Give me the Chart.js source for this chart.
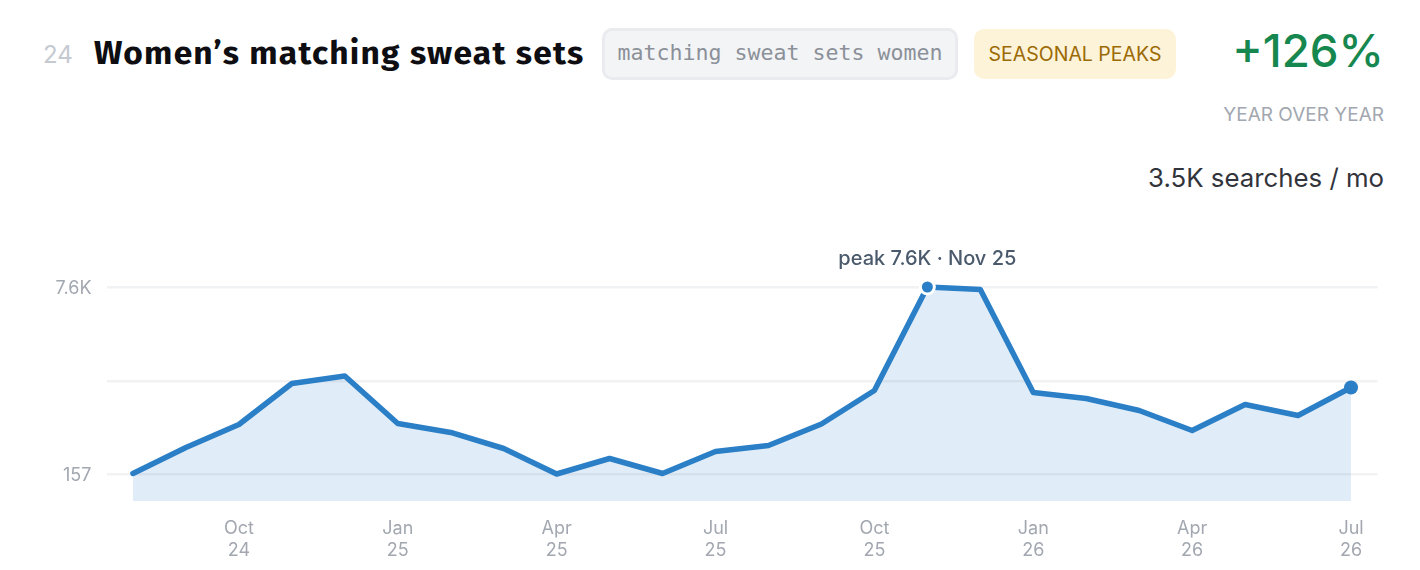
<!DOCTYPE html>
<html><head><meta charset="utf-8">
<style>
html,body{margin:0;padding:0;background:#fff;width:1420px;height:570px;overflow:hidden;font-family:Inter,sans-serif}
.t{position:absolute;white-space:nowrap;line-height:1}
#rank{left:43px;top:43px;font-size:24px;color:#c5c9d1}
#title{left:94px;top:37px;font-family:"Fira Sans","Open Sans",sans-serif;font-weight:700;font-size:33.5px;letter-spacing:1.24px;color:#0d0d12}
#kw{position:absolute;left:602px;top:28px;width:356px;height:52px;box-sizing:border-box;background:#f3f4f6;border:3px solid #e9ebef;border-radius:10px;font-family:"DejaVu Sans Mono",monospace;font-size:21.6px;color:#8b9099;line-height:44px;text-align:center;white-space:nowrap}
#tag{position:absolute;left:974px;top:29px;width:202px;height:50px;background:#fdf3d8;border-radius:10px;color:#9c6a04;font-size:19.5px;line-height:51px;text-align:center;white-space:nowrap}
#yoy{right:36px;top:28px;font-size:45.7px;font-weight:500;color:#15874f}
#yoyl{right:36px;top:105px;font-size:19px;color:#a2a7b0}
#vol{right:36px;top:165px;font-size:25.8px;color:#32343c}
#c{position:absolute;left:0;top:0}
</style></head><body>
<div class="t" id="rank">24</div>
<div class="t" id="title">Women’s matching sweat sets</div>
<div id="kw">matching sweat sets women</div>
<div id="tag">SEASONAL PEAKS</div>
<div class="t" id="yoy">+126%</div>
<div class="t" id="yoyl">YEAR OVER YEAR</div>
<div class="t" id="vol">3.5K searches / mo</div>
<canvas id="c" width="1420" height="570" style="width:1420px;height:570px"></canvas>
<script src="https://cdn.jsdelivr.net/npm/chart.js@4"></script>
<script>
const months = ["Aug 24","Sep 24","Oct 24","Nov 24","Dec 24","Jan 25","Feb 25","Mar 25","Apr 25","May 25","Jun 25","Jul 25","Aug 25","Sep 25","Oct 25","Nov 25","Dec 25","Jan 26","Feb 26","Mar 26","Apr 26","May 26","Jun 26","Jul 26"];
const searches = [177,1212,2127,3759,4057,2167,1809,1172,157,774,177,1052,1291,2147,3480,7600,7500,3400,3162,2684,1888,2923,2485,3600];
const xTickLabels = {"Oct 24":["Oct","24"],"Jan 25":["Jan","25"],"Apr 25":["Apr","25"],"Jul 25":["Jul","25"],"Oct 25":["Oct","25"],"Jan 26":["Jan","26"],"Apr 26":["Apr","26"],"Jul 26":["Jul","26"]};
const yTickValues = [157,3858,7600];
const yTickLabels = ["157","","7.6K"];
const peakLabel = "peak 7.6K · Nov 25";
const peakIndex = 15;
const lastIndex = searches.length-1;
const BLUE = "#2b7fc6";

const peakPlugin = {id:"peakText",afterDatasetsDraw(chart){
  const p = chart.getDatasetMeta(0).data[peakIndex];
  const g = chart.ctx; g.save();
  g.font = "500 20px Inter"; g.fillStyle = "#4a5a6c";
  g.textAlign = "center"; g.textBaseline = "alphabetic";
  g.fillText(peakLabel, p.x, 265);
  g.restore();
}};

new Chart(document.getElementById("c"),{
  type:"line",
  data:{labels:months,datasets:[{
    data:searches,
    borderColor:BLUE,borderWidth:5.5,tension:0,
    borderJoinStyle:"round",borderCapStyle:"round",
    backgroundColor:"rgba(43,127,198,0.145)",fill:"start",clip:false,
    pointRadius:c=>c.dataIndex===peakIndex?7:c.dataIndex===lastIndex?7:0,
    pointBackgroundColor:BLUE,
    pointBorderColor:c=>c.dataIndex===peakIndex?"#fff":BLUE,
    pointBorderWidth:c=>c.dataIndex===peakIndex?3:0
  }]},
  options:{
    responsive:false,animation:false,devicePixelRatio:1,
    layout:{padding:{top:280,right:42.5,left:0,bottom:0}},
    plugins:{legend:{display:false},tooltip:{enabled:false}},
    scales:{
      x:{type:"category",offset:true,
        grid:{display:false},border:{display:false},
        afterFit(s){s.height=69;},
        ticks:{autoSkip:false,maxRotation:0,minRotation:0,padding:9,color:"#a2a7b0",
          font:{family:"Inter",size:18,lineHeight:1.22},
          callback(v){return xTickLabels[months[v]]||"";}}
      },
      y:{min:-918,max:7879,
        afterBuildTicks(s){s.ticks=yTickValues.map(v=>({value:v}));},
        afterFit(s){s.width=106.5;},
        grid:{color:"#f1f2f4",lineWidth:2.5,drawTicks:false},border:{display:false},
        ticks:{padding:15,color:"#a2a7b0",font:{family:"Inter",size:18,lineHeight:0.1667},
          callback(v){const t=yTickLabels[yTickValues.indexOf(v)];return t?["",t]:"";}}
      }
    }
  },
  plugins:[peakPlugin]
});
</script>
</body></html>
